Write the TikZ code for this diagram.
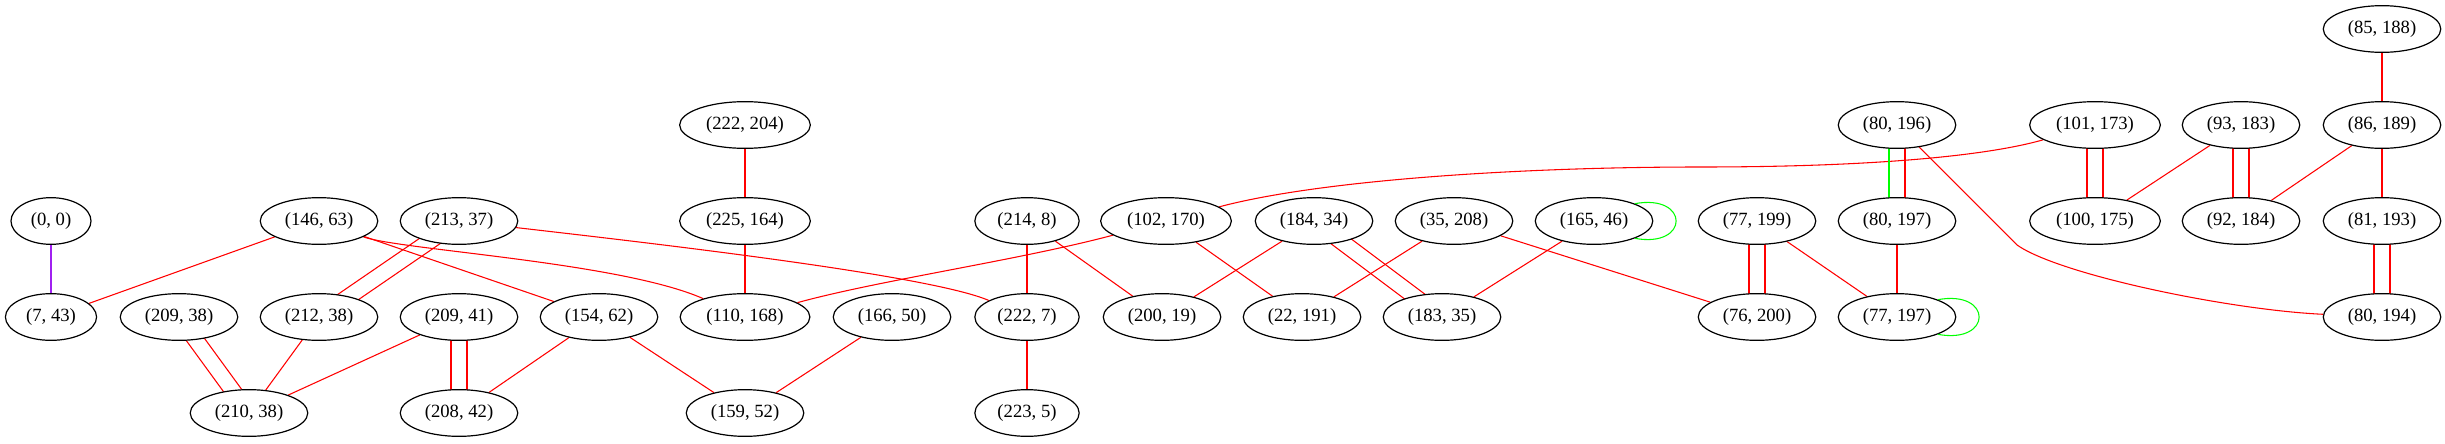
\documentclass[tikz,border=0pt]{standalone}
\usepackage{fontspec}
\setmainfont{Liberation Serif}
\usetikzlibrary{shapes.geometric, calc, backgrounds}
\definecolor{roxo}{HTML}{A020F0}
\definecolor{verde}{HTML}{00FF00}
\definecolor{vermelho}{HTML}{FF0000}
\tikzset{
  vertice/.style={ellipse, draw, fill=white, line width=0.9pt, inner xsep=5.5pt, inner ysep=0pt,
    minimum width=60pt, minimum height=35pt, font=\fontsize{14}{16}\selectfont},
  aresta/.style={draw=vermelho, line width=0.8pt},
  laco/.style={draw=verde, line width=0.8pt}
}

\begin{document}
\begin{tikzpicture}[x=0.75pt, y=-0.75pt]
        \useasboundingbox (0,0) rectangle (2445,443);

        % Primeira linha
        \node[vertice] (n85_188) at (2382,29) {(85, 188)};

        % Segunda linha
        \node[vertice] (n222_204) at (745,125) {(222, 204)};
        \node[vertice] (n80_196) at (1897,125) {(80, 196)};
        \node[vertice] (n101_173) at (2095,125) {(101, 173)};
        \node[vertice] (n93_183) at (2241,125) {(93, 183)};
        \node[vertice] (n86_189) at (2382,125) {(86, 189)};

        % Terceira linha
        \node[vertice] (n0_0) at (51,221) {(0, 0)};
        \node[vertice] (n146_63) at (319,221) {(146, 63)};
        \node[vertice] (n213_37) at (459,221) {(213, 37)};
        \node[vertice] (n225_164) at (745,221) {(225, 164)};
        \node[vertice] (n214_8) at (1027,221) {(214, 8)};
        \node[vertice] (n102_170) at (1166,221) {(102, 170)};
        \node[vertice] (n184_34) at (1314,221) {(184, 34)};
        \node[vertice] (n35_208) at (1454,221) {(35, 208)};
        \node[vertice] (n165_46) at (1594,221) {(165, 46)};
        \node[vertice] (n77_199) at (1757,221) {(77, 199)};
        \node[vertice] (n80_197) at (1897,221) {(80, 197)};
        \node[vertice] (n100_175) at (2095,221) {(100, 175)};
        \node[vertice] (n92_184) at (2241,221) {(92, 184)};
        \node[vertice] (n81_193) at (2382,221) {(81, 193)};

        % Quarta linha
        \node[vertice] (n7_43) at (51,317) {(7, 43)};
        \node[vertice] (n209_38) at (179,317) {(209, 38)};
        \node[vertice] (n212_38) at (319,317) {(212, 38)};
        \node[vertice] (n209_41) at (459,317) {(209, 41)};
        \node[vertice] (n154_62) at (599,317) {(154, 62)};
        \node[vertice] (n110_168) at (745,317) {(110, 168)};
        \node[vertice] (n166_50) at (892,317) {(166, 50)};
        \node[vertice] (n222_7) at (1027,317) {(222, 7)};
        \node[vertice] (n200_19) at (1162,317) {(200, 19)};
        \node[vertice] (n22_191) at (1302,317) {(22, 191)};
        \node[vertice] (n183_35) at (1442,317) {(183, 35)};
        \node[vertice] (n76_200) at (1757,317) {(76, 200)};
        \node[vertice] (n77_197) at (1897,317) {(77, 197)};
        \node[vertice] (n80_194) at (2382,317) {(80, 194)};

        % Quinta linha
        \node[vertice] (n210_38) at (249,413) {(210, 38)};
        \node[vertice] (n208_42) at (459,413) {(208, 42)};
        \node[vertice] (n159_52) at (745,413) {(159, 52)};
        \node[vertice] (n223_5) at (1027,413) {(223, 5)};

        % Arestas
        \begin{scope}[on background layer]
        \draw[aresta, draw=roxo] (n0_0) -- (n7_43);
        \draw[aresta] (n146_63) -- (n7_43);
        \draw[aresta] (n146_63) -- (n154_62);
        \draw[aresta] (n146_63) .. controls (400,250) and (620,262) .. (n110_168);
        \draw[aresta] (n213_37) .. controls (650,243) and (930,275) .. (n222_7);
        \draw[aresta] ($(n213_37)!6pt!90:(n212_38)$) -- ($(n212_38)!6pt!-90:(n213_37)$);
        \draw[aresta] ($(n213_37)!6pt!-90:(n212_38)$) -- ($(n212_38)!6pt!90:(n213_37)$);
        \draw[aresta] ($(n209_38)!6pt!90:(n210_38)$) -- ($(n210_38)!6pt!-90:(n209_38)$);
        \draw[aresta] ($(n209_38)!6pt!-90:(n210_38)$) -- ($(n210_38)!6pt!90:(n209_38)$);
        \draw[aresta] (n212_38) -- (n210_38);
        \draw[aresta] (n209_41) -- (n210_38);
        \draw[aresta] ($(n209_41)!6pt!90:(n208_42)$) -- ($(n208_42)!6pt!-90:(n209_41)$);
        \draw[aresta] ($(n209_41)!6pt!-90:(n208_42)$) -- ($(n208_42)!6pt!90:(n209_41)$);
        \draw[aresta] (n154_62) -- (n208_42);
        \draw[aresta] (n154_62) -- (n159_52);
        \draw[aresta] (n222_204) -- (n225_164);
        \draw[aresta] (n225_164) -- (n110_168);
        \draw[aresta] (n166_50) -- (n159_52);
        \draw[aresta] (n214_8) -- (n222_7);
        \draw[aresta] (n214_8) -- (n200_19);
        \draw[aresta] (n222_7) -- (n223_5);
        \draw[aresta] (n102_170) .. controls (1020,260) and (880,280) .. (n110_168);
        \draw[aresta] (n102_170) -- (n22_191);
        \draw[aresta] (n184_34) -- (n200_19);
        \draw[aresta] ($(n184_34)!6pt!90:(n183_35)$) -- ($(n183_35)!6pt!-90:(n184_34)$);
        \draw[aresta] ($(n184_34)!6pt!-90:(n183_35)$) -- ($(n183_35)!6pt!90:(n184_34)$);
        \draw[aresta] (n35_208) -- (n22_191);
        \draw[aresta] (n35_208) -- (n76_200);
        \draw[aresta] (n165_46) -- (n183_35);
        \draw[aresta] ($(n77_199)!6pt!90:(n76_200)$) -- ($(n76_200)!6pt!-90:(n77_199)$);
        \draw[aresta] ($(n77_199)!6pt!-90:(n76_200)$) -- ($(n76_200)!6pt!90:(n77_199)$);
        \draw[aresta] (n77_199) -- (n77_197);
        \draw[aresta] (n101_173) .. controls (1990,155) and (1880,167) .. (1700,167)
          .. controls (1520,167) and (1320,180) .. (n102_170);
        \draw[aresta] ($(n101_173)!6pt!90:(n100_175)$) -- ($(n100_175)!6pt!-90:(n101_173)$);
        \draw[aresta] ($(n101_173)!6pt!-90:(n100_175)$) -- ($(n100_175)!6pt!90:(n101_173)$);
        \draw[laco] ($(n80_196)!6pt!-90:(n80_197)$) -- ($(n80_197)!6pt!90:(n80_196)$);
        \draw[aresta] ($(n80_196)!6pt!90:(n80_197)$) -- ($(n80_197)!6pt!-90:(n80_196)$);
        \draw[aresta] (n80_196) -- (2017,245) .. controls (2060,275) and (2230,310) .. (n80_194);
        \draw[aresta] (n80_197) -- (n77_197);
        \draw[aresta] (n93_183) -- (n100_175);
        \draw[aresta] ($(n93_183)!6pt!90:(n92_184)$) -- ($(n92_184)!6pt!-90:(n93_183)$);
        \draw[aresta] ($(n93_183)!6pt!-90:(n92_184)$) -- ($(n92_184)!6pt!90:(n93_183)$);
        \draw[aresta] (n86_189) -- (n92_184);
        \draw[aresta] (n86_189) -- (n81_193);
        \draw[aresta] (n85_188) -- (n86_189);
        \draw[aresta] ($(n81_193)!6pt!90:(n80_194)$) -- ($(n80_194)!6pt!-90:(n81_193)$);
        \draw[aresta] ($(n81_193)!6pt!-90:(n80_194)$) -- ($(n80_194)!6pt!90:(n81_193)$);
        \end{scope}

        % Lacos
        \draw[laco] (n165_46.23) .. controls +(55,-10) and +(55,10) .. (n165_46.-23);
        \draw[laco] (n77_197.23) .. controls +(55,-10) and +(55,10) .. (n77_197.-23);
\end{tikzpicture}
\end{document}
